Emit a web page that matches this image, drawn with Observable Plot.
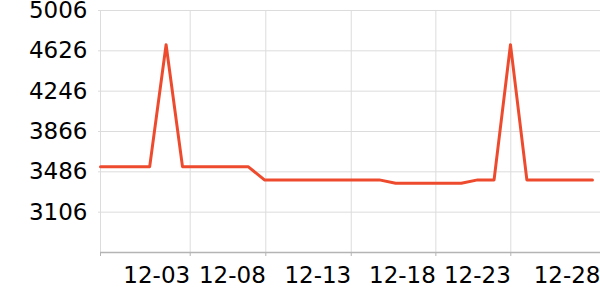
<!DOCTYPE html>
<html><head><meta charset="utf-8">
<script src="https://cdn.jsdelivr.net/npm/d3@7"></script>
<script src="https://cdn.jsdelivr.net/npm/@observablehq/plot@0.6"></script>
<style>body{margin:0;background:#fff;} svg{display:block;}</style>
</head><body><div id="chart"></div>
<script>
const dates = ["11-28","11-29","11-30","12-01","12-02","12-03","12-04","12-05","12-06","12-07",
  "12-08","12-09","12-10","12-11","12-12","12-13","12-14","12-15","12-16","12-17",
  "12-18","12-19","12-20","12-21","12-22","12-23","12-24","12-25","12-26","12-27","12-28"];
const values = [3535,3535,3535,3535,4684,3535,3535,3535,3535,3535,
  3410,3410,3410,3410,3410,3410,3410,3410,3378,3378,
  3378,3378,3378,3410,3410,4684,3410,3410,3410,3410,3410];
const xTickPos = [0, 5.47, 10.08, 15.29, 20.45, 25.02, 30.49];
const xTickLabels = ["", "12-03", "12-08", "12-13", "12-18", "12-23", "12-28"];
const yTicks = [3106, 3486, 3866, 4246, 4626, 5006];
const yDomain = [2726, 5006];
const xDomain = [0, 30.49];

const idx = values.map((_, i) => i);

const chart = Plot.plot({
  width: 600,
  height: 300,
  marginLeft: 100,
  marginRight: 0,
  marginTop: 10,
  marginBottom: 48,
  style: {fontFamily: "DejaVu Sans", fontSize: "23px", background: "#fff", overflow: "visible"},
  x: {type: "linear", domain: xDomain, range: [100, 600]},
  y: {domain: yDomain},
  marks: [
    Plot.gridY(yTicks, {stroke: "#dcdcdc", strokeOpacity: 1, strokeWidth: 1}),
    Plot.gridX(xTickPos, {stroke: "#dcdcdc", strokeOpacity: 1, strokeWidth: 1}),
    Plot.axisY(yTicks, {tickSize: 2, tickPadding: 11, stroke: "#dcdcdc", fill: "#000", fontSize: 23,
      tickFormat: d => String(d), label: null}),
    Plot.axisX(xTickPos, {tickSize: 4, tickPadding: 10, stroke: "#b4b4b4", fill: "#000", fontSize: 23,
      textAnchor: "end", tickFormat: (d, i) => xTickLabels[i], label: null}),
    Plot.ruleY([yDomain[0]], {stroke: "#b4b4b4", strokeWidth: 1.5}),
    Plot.lineY(values, {x: idx, y: values, stroke: "#ee4b2e", strokeWidth: 3})
  ]
});
document.getElementById("chart").appendChild(chart);
</script>
</body></html>
